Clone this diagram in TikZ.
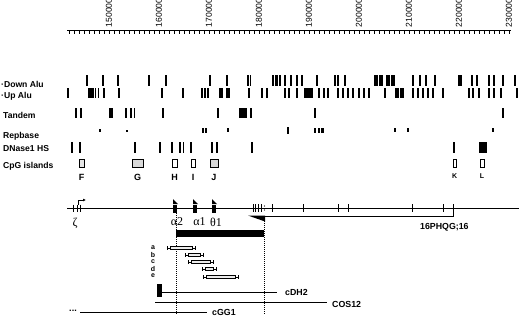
\documentclass[tikz,border=0pt]{standalone}
\usepackage{fontspec}
\setmainfont{Liberation Sans}
\newfontfamily\greekfont{Liberation Serif}
\usepackage{tikz}
\usetikzlibrary{arrows.meta}

\begin{document}
\begin{tikzpicture}[x=1pt,y=-1pt,
    tracklab/.style={anchor=west,inner sep=0pt,font=\bfseries\fontsize{8.6}{9}\selectfont},
    clonelab/.style={anchor=west,inner sep=0pt,font=\bfseries\fontsize{8.8}{9}\selectfont},
    islandlab/.style={inner sep=0pt,font=\bfseries\fontsize{9}{9}\selectfont},
    genelab/.style={inner sep=0pt,font=\greekfont\fontsize{12}{12}\selectfont},
    dotline/.style={line width=0.8pt,dash pattern=on 0.8pt off 1.2pt}]
    \useasboundingbox (0,0) rectangle (520,319);

    % ruler
    \draw[line width=1pt] (67,30.5) -- (511,30.5);
    \foreach \k in {142,...,230}
        \draw[line width=0.6pt] ({109+(\k-150)*5},30.5) -- ++(0,3);
    \foreach \k in {150,160,...,230}
        \node[rotate=90,anchor=west,inner sep=0pt,font=\fontsize{8.6}{9}\selectfont] (pos\k) at ({109+(\k-150)*5},27.5) {\k000};

    % track names
    \node[tracklab] (downalu) at (1,84) {\textperiodcentered Down Alu};
    \node[tracklab] (upalu) at (1,96) {\textperiodcentered Up Alu};
    \node[tracklab] (tandem) at (3,115) {Tandem};
    \node[tracklab] (repbase) at (3,136) {Repbase};
    \node[tracklab] (dnase) at (3,149) {DNase1 HS};
    \node[tracklab] (cpg) at (3,166) {CpG islands};

    % Down Alu
    \foreach \x/\w in {87/1.5,103/1.5,118/1.5,149/1.5,166/2.5,210/1.5,227/1.5,248/1.2,250.5/1.2,
        273/2.5,276.5/2.5,280/1.5,285/1.5,291/2,297/1.2,302/1.5,317/2.5,335/1.2,338/1.2,345/1.5,
        376/4,381/3,388/3,393/3,413/1.5,420/1.5,426/1.5,435/1.5,460/4,472/1.5,477/1.5,489/2.5,
        494/1.5,503/1.5,515/1.5}
        \fill (\x-\w/2-0.2,75) rectangle (\x+\w/2+0.2,86);
    % Up Alu
    \foreach \x/\w in {68/1.5,89.5/2,92.5/2,95.5/1.5,98.5/1.2,104/1.2,119/1.5,162/1.2,183/1.2,
        202/1.5,205/1.2,208/1.5,221/3,228/4.5,249/1.5,262/1.2,267/1.2,285/1.5,289/2,297/1.2,
        306/3,310.5/4,319/2.5,324/2.5,328/1.5,338/1.2,343/1.5,348/1.5,353/1.5,359/1.5,364/1.2,
        369/1.5,385/2.5,397/3.5,402/4,413/1.2,418/1.2,423/1.5,428/1.5,433/1.2,443/1.2,469/2.5,
        473/1.2,479/1.5,489/2,494/1.5,501/2.5,517/1.5}
        \fill (\x-\w/2-0.2,88) rectangle (\x+\w/2+0.2,98);
    % Tandem
    \foreach \x/\w in {76/1.5,81/1.5,111/4.5,126/2,131/1.5,134.5/1.5,163/1.2,218/1.2,243/7,
        251/1.5,315/1.2,503/1.2}
        \fill (\x-\w/2-0.2,108) rectangle (\x+\w/2+0.2,118);
    % Repbase
    \foreach \x/\w/\t/\b in {100/2.2/129/131.5,127/1.8/129.5/131.5,203/1/127.5/132.5,
        206/1/127.5/132.5,228/1/128/132,288/2/126.5/134,315/1.2/127.5/133,319/1.2/127.5/133,
        322.5/1.8/127.5/133,395/1/128/132,408/1.2/128/132,493/1.5/128/132}
        \fill (\x-\w/2-0.2,\t) rectangle (\x+\w/2+0.2,\b);
    % DNase1 HS
    \foreach \x/\w in {72/1.5,80/1.5,135/2,160/1.5,172/1.5,180/1.5,183.5/1.5,191/1.5,212/1.5,
        217/1.5,252/1.5,454/1.5,483/7}
        \fill (\x-\w/2-0.2,142) rectangle (\x+\w/2+0.2,153);

    % CpG islands
    \foreach \a/\b/\c/\n in {79/84/gray!20/F,132/143/gray!30/G,172/177/white/H,191/195/white/I,
        210/218/gray!30/J}{
        \draw[line width=0.8pt,fill=\c] (\a,159) rectangle (\b,167);
        \node[islandlab] (isl\n) at ({(\a+\b)/2},177) {\n};
    }
    \foreach \a/\b/\n in {453/456.5/K,480/484/L}{
        \draw[line width=0.8pt,fill=white] (\a,159) rectangle (\b,167);
        \node[inner sep=0pt,font=\bfseries\fontsize{7}{7}\selectfont] (isl\n) at ({(\a+\b)/2},176) {\n};
    }

    % gene map
    \draw[line width=0.9pt] (67,208) -- (519,208);
    \foreach \x in {73,77,80}
        \draw[line width=0.8pt] (\x,204.5) -- (\x,212);
    \draw[line width=0.6pt,-{Latex[length=3pt,width=3pt]}] (78,204.5) -- (78,200) -- (86,200);
    \foreach \x in {173,193,212}{
        \fill (\x,205) rectangle (\x+4,213);
        \fill (\x,199) -- (\x,204) -- (\x+5,204) -- cycle;
    }
    \foreach \x in {253,255.5,258.5,261,272,303,338,348,412,443,453}
        \draw[line width=0.7pt] (\x,204) -- (\x,212);
    \fill (264.5,206) circle (0.6) (264.5,210) circle (0.6);
    \node[genelab] (zeta) at (75,223) {ζ};
    \node[genelab] (alpha2) at (177,222) {α2};
    \node[genelab] (alpha1) at (199.5,222) {α1};
    \node[genelab] (theta1) at (216,222) {θ1};

    % 16PHQG;16
    \draw[line width=0.8pt] (253,216) -- (453,216) -- (453,212);
    \fill (248,215.5) -- (265,215.5) -- (265,221.5) -- cycle;
    \node[clonelab] (phqg) at (420,227) {16PHQG;16};

    % region and clones
    \draw[dotline] (176,213) -- (176,314);
    \draw[dotline] (264,221) -- (264,314);
    \fill (176,230) rectangle (264,237);
    \foreach \l/\y in {a/248,b/255,c/262,d/269,e/276}
        \node[inner sep=0pt,font=\bfseries\fontsize{7}{7}\selectfont] (clone\l) at (153,\y) {\l};
    \foreach \a/\b/\y in {167/195/248,185/203/255,188/213/262,202/216/269,203/238/277}{
        \draw[line width=0.6pt] (\a,\y) -- (\b,\y);
        \draw[line width=0.6pt] (\a,\y-2) -- (\a,\y+2) (\b,\y-2) -- (\b,\y+2);
        \draw[line width=0.6pt,fill=gray!15] (\a+3,\y-1.5) rectangle (\b-3,\y+1.5);
    }

    % cosmids
    \fill (157,284) rectangle (162,297);
    \draw[line width=0.8pt] (162,292) -- (277,292);
    \node[clonelab] (cdh) at (285,292) {cDH2};
    \draw[line width=0.8pt] (155,302) -- (327,302);
    \node[clonelab] (cos) at (332,304) {COS12};
    \node[inner sep=0pt,font=\bfseries\fontsize{9}{9}\selectfont] (more) at (73,311) {...};
    \draw[line width=0.8pt] (80,312) -- (207,312);
    \node[clonelab] (cgg) at (212,312) {cGG1};
\end{tikzpicture}
\end{document}
